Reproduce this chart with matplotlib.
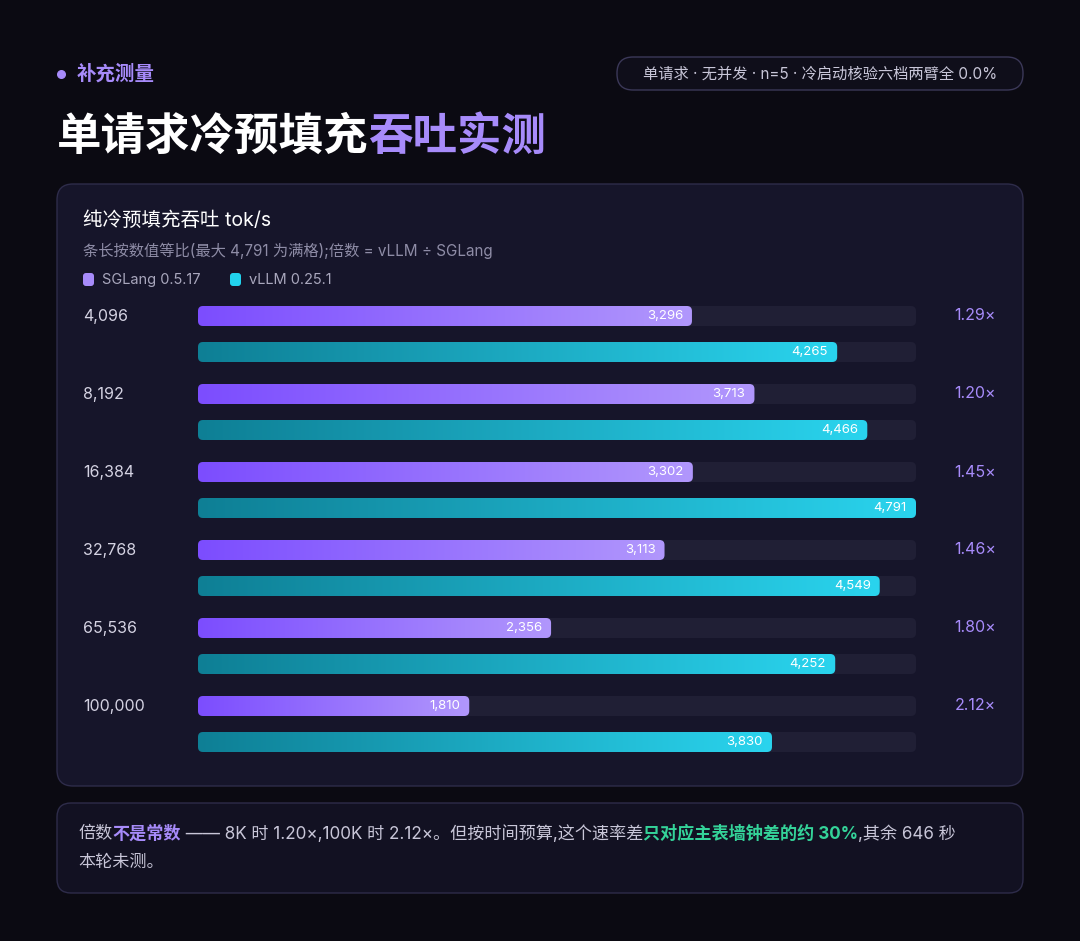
import numpy as np
import matplotlib.pyplot as plt
from matplotlib.patches import FancyBboxPatch
from matplotlib.colors import LinearSegmentedColormap

plt.rcParams['font.family'] = ['Inter', 'Noto Sans CJK SC', 'DejaVu Sans']

# 数据
lengths = ['4,096', '8,192', '16,384', '32,768', '65,536', '100,000']
sglang = [3296, 3713, 3302, 3113, 2356, 1810]
vllm = [4265, 4466, 4791, 4549, 4252, 3830]
ratios = ['1.29×', '1.20×', '1.45×', '1.46×', '1.80×', '2.12×']
vmax = max(vllm)

W, H = 1080, 941
fig = plt.figure(figsize=(W / 100, H / 100), dpi=100)
fig.patch.set_facecolor('#0b0a12')
ax = fig.add_axes([0, 0, 1, 1])
ax.set_xlim(0, W)
ax.set_ylim(H, 0)
ax.axis('off')
renderer = fig.canvas.get_renderer()


def rbox(x, y, w, h, r, fc, ec='none', lw=1, z=1):
    p = FancyBboxPatch((x, y), w, h, boxstyle='round,pad=0,rounding_size=%g' % r,
                       fc=fc, ec=ec, lw=lw, zorder=z)
    ax.add_patch(p)
    return p


def runs(x, y, parts, size):
    # 按顺序绘制不同颜色的文字片段
    for s, c, wt in parts:
        t = ax.text(x, y, s, color=c, fontsize=size, fontweight=wt, va='center', ha='left')
        x += t.get_window_extent(renderer).width
    return x


# 顶部
ax.scatter([61], [74], s=30, color='#a78bfa', zorder=3)
ax.text(77, 74, '补充测量', color='#a78bfa', fontsize=14, fontweight='bold', va='center')
rbox(617, 57, 406, 33, 16, '#0f0e1a', '#3b3858')
ax.text(820, 74, '单请求 · 无并发 · n=5 · 冷启动核验六档两臂全 0.0%', color='#c8c6d8',
        fontsize=11, va='center', ha='center')
runs(57, 137, [('单请求冷预填充', '#ffffff', 'bold'), ('吞吐实测', '#a78bfa', 'bold')], 32)

# 主面板
rbox(57, 184, 966, 602, 16, '#16152a', '#2e2c4a', z=1)
ax.text(83, 221, '纯冷预填充吞吐 tok/s', color='#ffffff', fontsize=14, va='center')
ax.text(83, 251, '条长按数值等比(最大 4,791 为满格);倍数 = vLLM ÷ SGLang', color='#8e8ca6',
        fontsize=11, va='center')
rbox(83, 273, 11, 13, 3, '#a78bfa', z=3)
ax.text(102, 280, 'SGLang 0.5.17', color='#a9a7bd', fontsize=10.5, va='center')
rbox(230, 273, 11, 13, 3, '#22d3ee', z=3)
ax.text(249, 280, 'vLLM 0.25.1', color='#a9a7bd', fontsize=10.5, va='center')

x0, x1 = 198, 916
bh = 20
cm_s = LinearSegmentedColormap.from_list('s', ['#7c4dff', '#b197fc'])
cm_v = LinearSegmentedColormap.from_list('v', ['#0e7f95', '#2ad4ee'])
grad = np.linspace(0, 1, 256).reshape(1, -1)

for i, name in enumerate(lengths):
    yc = 316 + 78 * i
    ax.text(83, yc, name, color='#d4d2e2', fontsize=11.5, va='center')
    ax.text(975, yc, ratios[i], color='#a78bfa', fontsize=11.5, va='center', ha='center')
    for yy, val, cm in [(yc, sglang[i], cm_s), (yc + 36, vllm[i], cm_v)]:
        rbox(x0, yy - bh / 2, x1 - x0, bh, 5, '#201f35', z=2)
        xe = x0 + (x1 - x0) * val / vmax
        clip = rbox(x0, yy - bh / 2, xe - x0, bh, 5, 'none', z=3)
        im = ax.imshow(grad, cmap=cm, aspect='auto', extent=(x0, xe, yy + bh / 2, yy - bh / 2), zorder=3)
        im.set_clip_path(clip)
        ax.text(xe - 9, yy, f'{val:,}', color='#ffffff', fontsize=9.5, va='center', ha='right', zorder=4)

# 底部说明
rbox(57, 803, 966, 90, 14, '#121122', '#2e2c4a')
runs(78, 834, [('倍数', '#c8c6d8', 'normal'), ('不是常数', '#a78bfa', 'bold'),
               (' —— 8K 时 1.20×,100K 时 2.12×。但按时间预算,这个速率差', '#c8c6d8', 'normal'),
               ('只对应主表墙钟差的约 30%', '#34d399', 'bold'),
               (',其余 646 秒', '#c8c6d8', 'normal')], 12.3)
ax.text(78, 862, '本轮未测。', color='#c8c6d8', fontsize=12.3, va='center')

fig.savefig('out.png', dpi=100, facecolor=fig.get_facecolor())
